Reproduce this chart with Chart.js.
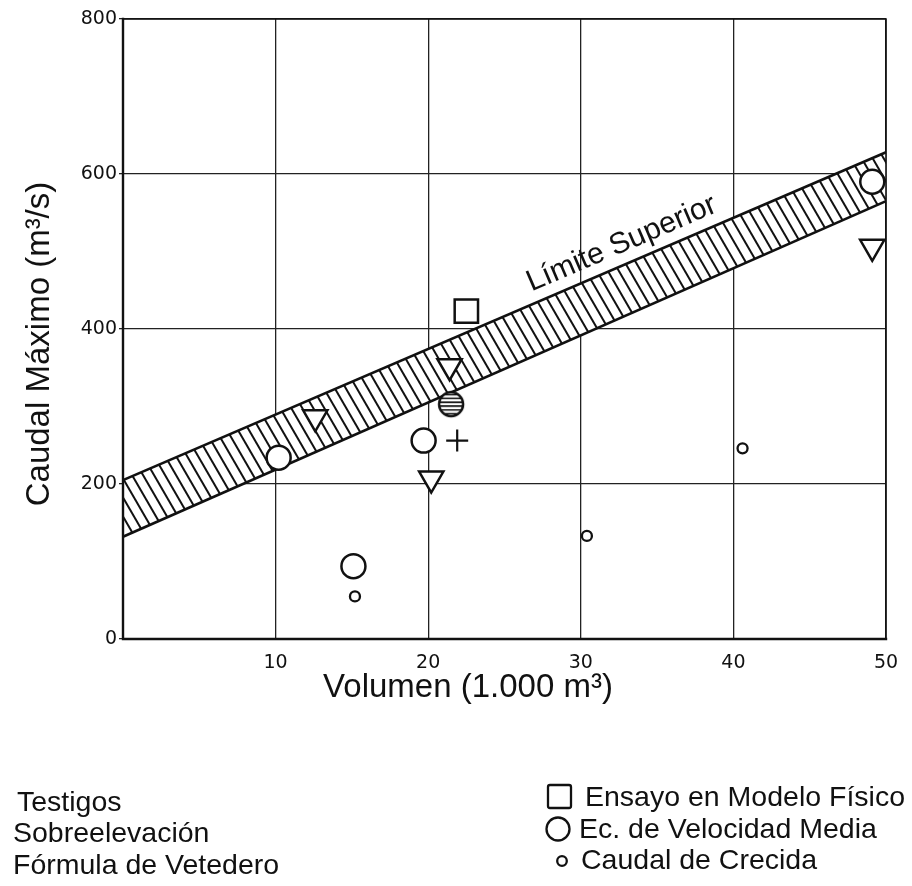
<!DOCTYPE html>
<html>
<head>
<meta charset="utf-8">
<script src="https://cdn.jsdelivr.net/npm/chart.js@4.4.1/dist/chart.umd.min.js"></script>
<style>
  html, body { margin: 0; padding: 0; background: #fff; }
  #wrap { width: 912px; height: 886px; position: relative; }
</style>
</head>
<body>
<div id="wrap"><canvas id="chart"></canvas></div>
<script>
// Axis ticks
const xTicks = [0, 10, 20, 30, 40, 50];
const yTicks = [0, 200, 400, 600, 800];

// "Límite Superior" band: lower and upper edges at V = 0 and V = 50
const bandX = [0, 50];
const bandLower = [132, 565];
const bandUpper = [205, 628];

// Ensayo en Modelo Físico (square)
const ensayoX = [22.5];
const ensayoY = [423];

// Ec. de Velocidad Media (large circles)
const velocidadX = [10.2, 15.1, 19.7, 49.1];
const velocidadY = [234, 94, 256, 590];

// Caudal de Crecida (small circles)
const crecidaX = [15.2, 30.4, 40.6];
const crecidaY = [55, 133, 246];

// Testigos (hatched circle)
const testigosX = [21.5];
const testigosY = [303];

// Sobreelevación (inverted triangles)
const sobreX = [12.6, 21.4, 20.2, 49.1];
const sobreY = [286, 352, 207, 506];

// Fórmula de Vetedero (cross)
const vetederoX = [21.9];
const vetederoY = [256];

const pts = (xs, ys) => xs.map((x, i) => ({ x: x, y: ys[i] }));

// Diagonal hatch used for the band
function makeHatch() {
  const w = 11, h = 19;
  const tile = document.createElement('canvas');
  tile.width = w; tile.height = h;
  const c = tile.getContext('2d');
  c.fillStyle = '#fff';
  c.fillRect(0, 0, w, h);
  c.strokeStyle = '#111';
  c.lineWidth = 2;
  for (let k = -1; k <= 1; k++) {
    c.beginPath();
    c.moveTo(k * w - w, -h);
    c.lineTo(k * w + 2 * w, 2 * h);
    c.stroke();
  }
  return c.createPattern(tile, 'repeat');
}

// Circle with horizontal hatching for the Testigos marker
function makeHatchedCircle() {
  const s = 30, r = 12;
  const cv = document.createElement('canvas');
  cv.width = s; cv.height = s;
  const c = cv.getContext('2d');
  c.beginPath();
  c.arc(s / 2, s / 2, r, 0, Math.PI * 2);
  c.fillStyle = '#fff';
  c.fill();
  c.save();
  c.clip();
  c.strokeStyle = '#111';
  c.lineWidth = 1.6;
  for (let y = s / 2 - r + 2.5; y < s / 2 + r; y += 3.8) {
    c.beginPath();
    c.moveTo(0, y);
    c.lineTo(s, y);
    c.stroke();
  }
  c.restore();
  c.beginPath();
  c.arc(s / 2, s / 2, r, 0, Math.PI * 2);
  c.strokeStyle = '#111';
  c.lineWidth = 2.5;
  c.stroke();
  return cv;
}

const INK = '#111';
const TITLE_FONT = '"Liberation Sans", Arial, sans-serif';

// Frame, axis titles, band label and symbol key
const decorations = {
  id: 'decorations',
  afterDatasetsDraw(chart) {
    const { ctx, chartArea: a, scales } = chart;
    const xs = scales.x, ys = scales.y;
    ctx.save();
    ctx.strokeStyle = INK;
    ctx.lineCap = 'square';
    ctx.lineWidth = 1.6;
    ctx.beginPath();
    ctx.moveTo(a.left, a.top);
    ctx.lineTo(a.right, a.top);
    ctx.lineTo(a.right, a.bottom);
    ctx.stroke();
    ctx.lineWidth = 2.4;
    ctx.beginPath();
    ctx.moveTo(a.left, a.top);
    ctx.lineTo(a.left, a.bottom);
    ctx.lineTo(a.right, a.bottom);
    ctx.stroke();

    // band label, parallel to the upper edge
    const p0x = xs.getPixelForValue(bandX[0]), p0y = ys.getPixelForValue(bandUpper[0]);
    const p1x = xs.getPixelForValue(bandX[1]), p1y = ys.getPixelForValue(bandUpper[1]);
    const ang = Math.atan2(p1y - p0y, p1x - p0x);
    const lx = 33.2;
    const ly = bandUpper[0] + (bandUpper[1] - bandUpper[0]) * (lx - bandX[0]) / (bandX[1] - bandX[0]);
    ctx.translate(xs.getPixelForValue(lx), ys.getPixelForValue(ly));
    ctx.rotate(ang);
    ctx.fillStyle = INK;
    ctx.font = '30px ' + TITLE_FONT;
    ctx.textAlign = 'center';
    ctx.textBaseline = 'alphabetic';
    ctx.fillText('Límite Superior', 0, -12);
    ctx.restore();
  },
  afterDraw(chart) {
    const { ctx } = chart;
    ctx.save();
    ctx.fillStyle = INK;
    ctx.strokeStyle = INK;

    // axis titles
    ctx.font = '33px ' + TITLE_FONT;
    ctx.textAlign = 'center';
    ctx.textBaseline = 'middle';
    ctx.fillText('Volumen (1.000 m³)', 468, 688);
    ctx.save();
    ctx.translate(40, 344);
    ctx.rotate(-Math.PI / 2);
    ctx.fillText('Caudal Máximo (m³/s)', 0, 0);
    ctx.restore();

    // key, left column
    ctx.font = '28.5px ' + TITLE_FONT;
    ctx.textAlign = 'left';
    ctx.textBaseline = 'alphabetic';
    ctx.fillText('Testigos', 17, 811);
    ctx.fillText('Sobreelevación', 13, 842);
    ctx.fillText('Fórmula de Vetedero', 13, 874);

    // key, right column
    ctx.fillText('Ensayo en Modelo Físico', 585, 806);
    ctx.fillText('Ec. de Velocidad Media', 579, 838);
    ctx.fillText('Caudal de Crecida', 581, 869);

    ctx.lineWidth = 2.3;
    ctx.beginPath();
    ctx.roundRect(548, 785, 23, 23, 2);
    ctx.stroke();
    ctx.beginPath();
    ctx.arc(558, 829, 11.5, 0, Math.PI * 2);
    ctx.stroke();
    ctx.beginPath();
    ctx.arc(562, 861, 4.8, 0, Math.PI * 2);
    ctx.stroke();
    ctx.restore();
  }
};

const hatch = makeHatch();
const hatchedCircle = makeHatchedCircle();

const markerBase = {
  type: 'scatter',
  borderColor: INK,
  backgroundColor: '#fff',
  borderWidth: 2.5,
  order: 0
};

new Chart(document.getElementById('chart'), {
  type: 'scatter',
  data: {
    datasets: [
      {
        type: 'line',
        label: 'Límite inferior',
        data: pts(bandX, bandLower),
        borderColor: INK,
        borderWidth: 2.6,
        pointRadius: 0,
        fill: false,
        tension: 0,
        order: 10
      },
      {
        type: 'line',
        label: 'Límite Superior',
        data: pts(bandX, bandUpper),
        borderColor: INK,
        borderWidth: 2.6,
        pointRadius: 0,
        backgroundColor: hatch,
        fill: '-1',
        tension: 0,
        order: 10
      },
      Object.assign({}, markerBase, {
        label: 'Ensayo en Modelo Físico',
        data: pts(ensayoX, ensayoY),
        pointStyle: 'rect',
        pointRadius: 16.5
      }),
      Object.assign({}, markerBase, {
        label: 'Ec. de Velocidad Media',
        data: pts(velocidadX, velocidadY),
        pointStyle: 'circle',
        pointRadius: 12
      }),
      Object.assign({}, markerBase, {
        label: 'Caudal de Crecida',
        data: pts(crecidaX, crecidaY),
        pointStyle: 'circle',
        pointRadius: 5,
        borderWidth: 2.3
      }),
      Object.assign({}, markerBase, {
        label: 'Testigos',
        data: pts(testigosX, testigosY),
        pointStyle: hatchedCircle,
        pointRadius: 13
      }),
      Object.assign({}, markerBase, {
        label: 'Sobreelevación',
        data: pts(sobreX, sobreY),
        pointStyle: 'triangle',
        rotation: 180,
        pointRadius: 14
      }),
      Object.assign({}, markerBase, {
        label: 'Fórmula de Vetedero',
        data: pts(vetederoX, vetederoY),
        pointStyle: 'cross',
        pointRadius: 11,
        borderWidth: 2.2
      })
    ]
  },
  options: {
    responsive: true,
    maintainAspectRatio: false,
    animation: false,
    layout: { padding: { left: 0, top: 19, right: 26, bottom: 197 } },
    plugins: {
      legend: { display: false },
      tooltip: { enabled: false },
      title: { display: false }
    },
    scales: {
      x: {
        type: 'linear',
        min: xTicks[0],
        max: xTicks[xTicks.length - 1],
        afterBuildTicks(scale) { scale.ticks = xTicks.map(v => ({ value: v })); },
        afterFit(scale) { scale.height = 50; },
        grid: { color: '#222', lineWidth: 1.3, drawTicks: false },
        border: { display: false },
        ticks: {
          padding: 13,
          color: INK,
          font: { family: '"DejaVu Sans", sans-serif', size: 19 },
          callback: v => (v === 0 ? '' : String(v))
        }
      },
      y: {
        type: 'linear',
        min: yTicks[0],
        max: yTicks[yTicks.length - 1],
        afterBuildTicks(scale) { scale.ticks = yTicks.map(v => ({ value: v })); },
        afterFit(scale) { scale.width = 123; },
        grid: { color: '#222', lineWidth: 1.3, drawTicks: true, tickLength: 4 },
        border: { display: false },
        ticks: {
          padding: 2,
          color: INK,
          font: { family: '"DejaVu Sans", sans-serif', size: 19 }
        }
      }
    }
  },
  plugins: [decorations]
});
</script>
</body>
</html>
